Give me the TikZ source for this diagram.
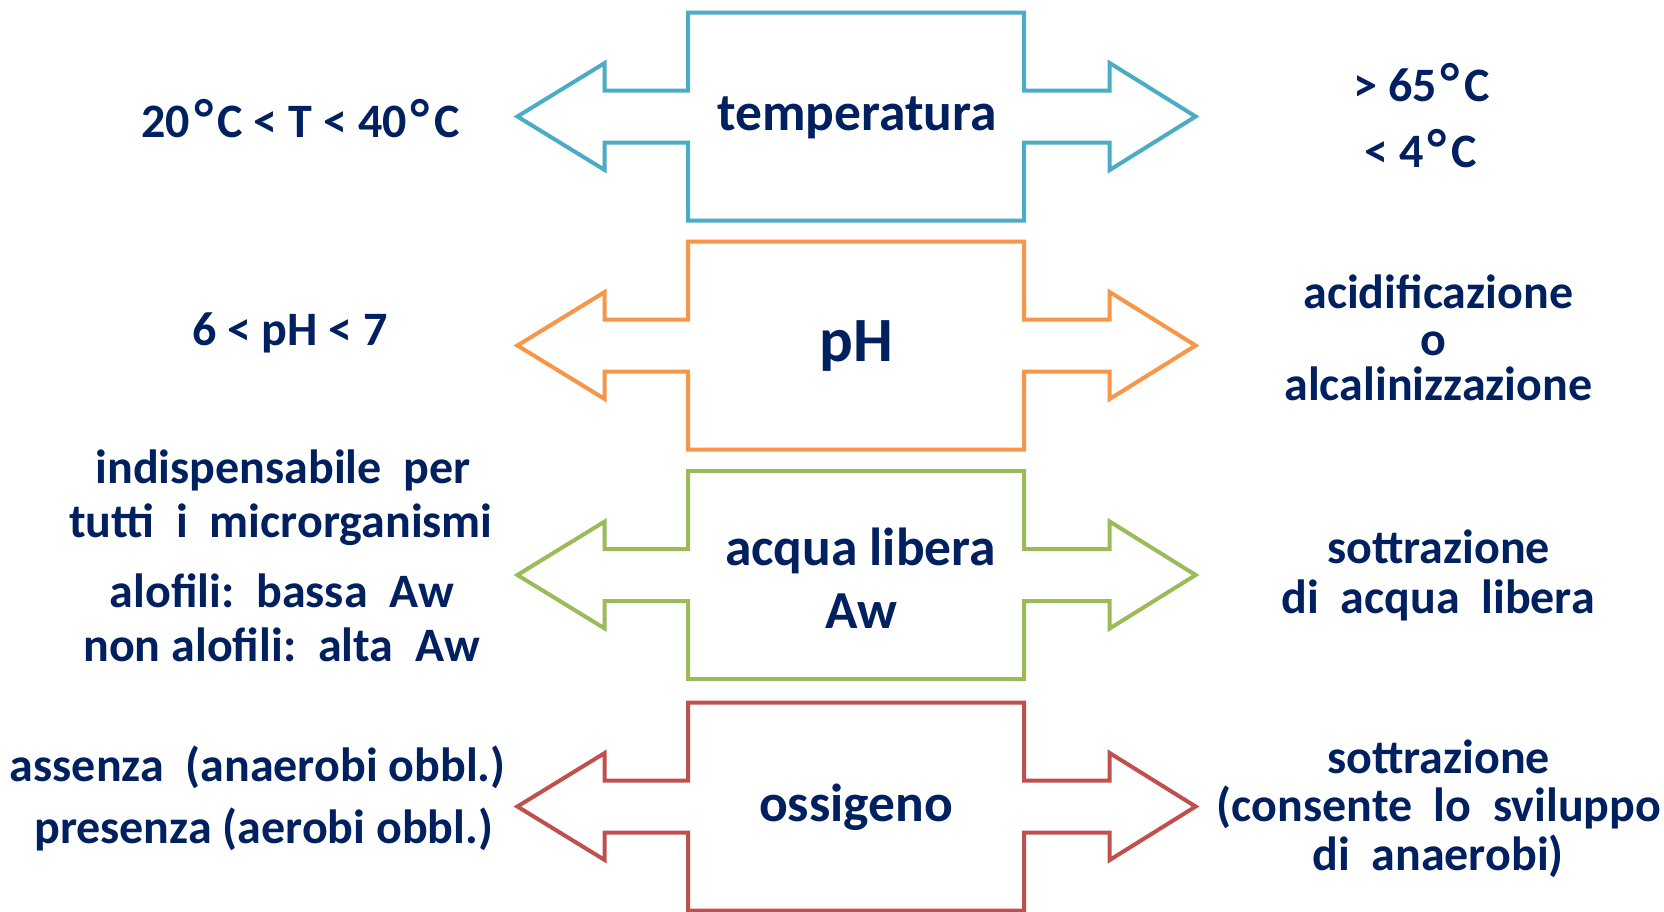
\documentclass[tikz,border=0pt]{standalone}
\usepackage{fontspec}
\setmainfont{Carlito}
\newfontfamily\degfont{DejaVu Sans}
\newcommand\dg{{\degfont\bfseries\fontsize{55}{55}\selectfont\raisebox{-3pt}{°}}}
\definecolor{navy}{HTML}{002060}
\definecolor{cblue}{HTML}{4BACC6}
\definecolor{corange}{HTML}{F79646}
\definecolor{cgreen}{HTML}{9BBB59}
\definecolor{cred}{HTML}{C0504D}
\newcommand\dblarrowshape[2]{%
  \begin{scope}[shift={(0,#1)}]
    \draw[outline,draw=#2]
      (688,-104) -- (1024,-104) -- (1024,-26) -- (1109.7,-26) -- (1109.7,-53.5)
      -- (1195.6,0) -- (1109.7,53.5) -- (1109.7,26) -- (1024,26) -- (1024,104)
      -- (688,104) -- (688,26) -- (604.7,26) -- (604.7,53.5) -- (517.4,0)
      -- (604.7,-53.5) -- (604.7,-26) -- (688,-26) -- cycle;
  \end{scope}}
\begin{document}
\begin{tikzpicture}[x=1pt,y=-1pt,
  outline/.style={line width=4pt,line join=miter,miter limit=10},
  txt/.style={text=navy,font=\bfseries\fontsize{48}{56}\selectfont,inner sep=0pt,anchor=base},
  ctr/.style={txt,font=\bfseries\fontsize{53.5}{62}\selectfont},
  big/.style={txt,font=\bfseries\fontsize{63}{70}\selectfont}]
\fill[white] (0,0) rectangle (1664,911);
\useasboundingbox (0,0) rectangle (1664,911);
% shapes
\dblarrowshape{116.5}{cblue}
\dblarrowshape{345.5}{corange}
\dblarrowshape{575}{cgreen}
\dblarrowshape{806.5}{cred}
% centre labels
\node[ctr] (temp) at (857,130) {temperatura};
\node[big] (ph) at (856,361.7) {pH};
\node[ctr] (acqua) at (860.5,565) {acqua libera};
\node[ctr] (aw) at (861.7,628.3) {Aw};
\node[ctr] (oss) at (856,821.7) {ossigeno};
% left texts
\node[txt] (l1) at (300.6,137.3) {20\dg C < T < 40\dg C};
\node[txt] (l2) at (290,345) {6 < pH < 7};
\node[txt] (l3a) at (283,483) {indispensabile\ \ per};
\node[txt] (l3b) at (281,537.7) {tutti\ \ i\ \ microrganismi};
\node[txt] (l3c) at (282,607.7) {alofili:\ \ bassa\ \ Aw};
\node[txt] (l3d) at (281.6,661.7) {non alofili:\ \ alta\ \ Aw};
\node[txt] (l4a) at (257.7,781.7) {assenza\ \ (anaerobi obbl.)};
\node[txt] (l4b) at (263.7,843.3) {presenza (aerobi obbl.)};
% right texts
\node[txt] (r1a) at (1421.7,101.7) {> 65\dg C};
\node[txt] (r1b) at (1420.5,167.3) {< 4\dg C};
\node[txt] (r2a) at (1438.3,308.3) {acidificazione};
\node[txt] (r2b) at (1433.3,355) {o};
\node[txt] (r2c) at (1438.3,400.7) {alcalinizzazione};
\node[txt] (r3a) at (1438.5,563.3) {sottrazione};
\node[txt] (r3b) at (1438,613.3) {di\ \ acqua\ \ libera};
\node[txt] (r4a) at (1438.5,773.3) {sottrazione};
\node[txt] (r4b) at (1439,821.7) {(consente\ \ lo\ \ sviluppo};
\node[txt] (r4c) at (1438,870.7) {di\ \ anaerobi)};
\end{tikzpicture}
\end{document}
